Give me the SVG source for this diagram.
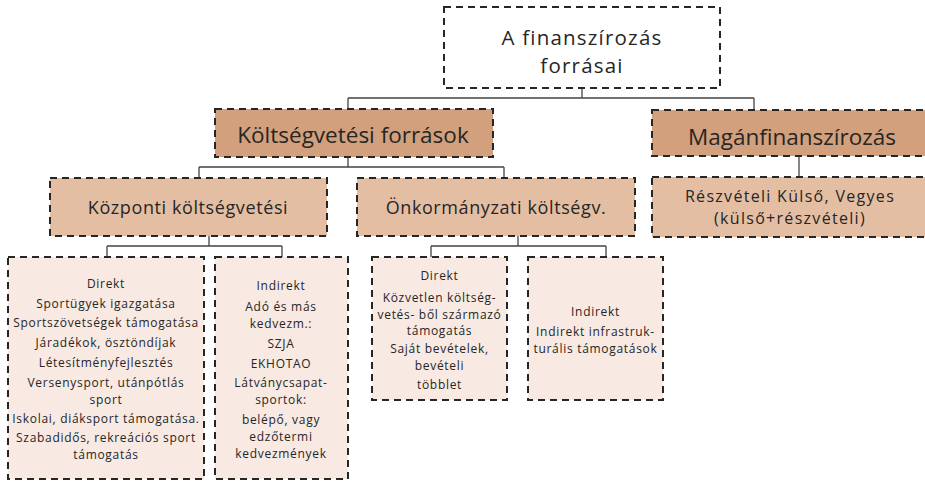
<svg xmlns="http://www.w3.org/2000/svg" width="925" height="481" viewBox="0 0 925 481">
<style>
.box{stroke:#262626;stroke-width:2;stroke-dasharray:7 5}
.root{fill:#ffffff}
.l1{fill:#D2A07C}
.l2{fill:#E4BEA2}
.l3{fill:#F8E9E2}
text{font-family:"Open Sans","Noto Sans","Liberation Sans",sans-serif;font-weight:500;fill:#262626;text-anchor:middle}
.t0{font-size:20.5px;letter-spacing:1.2px}
.t1{font-size:22.5px}
.t2{font-size:18px;letter-spacing:0.6px}
.t2b{font-size:16px;letter-spacing:1.3px}
.t3{font-size:12px;letter-spacing:0.7px}
.conn{fill:none;stroke:#444;stroke-width:1.3}
</style>
<rect width="925" height="481" fill="#fff"/>
<g id="connectors">
<path class="conn" d="M582 88V98M348 98H754M348 98V109M754 98V110"/>
<path class="conn" d="M799 156V177"/>
<path class="conn" d="M348 157V167M199 167H504M199 167V178M504 167V178"/>
<path class="conn" d="M209 236V246M107 246H282M107 246V257M282 246V257"/>
<path class="conn" d="M518 236V246M431 246H606M431 246V257M606 246V257"/>
</g>
<g id="root">
<rect class="box root" x="444" y="7" width="276" height="81"/>
<text class="t0" x="582" y="45">A finanszírozás<tspan x="582" dy="28">forrásai</tspan></text>
</g>
<g id="koltsegvetesi">
<rect class="box l1" x="215" y="109" width="278" height="48"/>
<text class="t1" x="353" y="143">Költségvetési források</text>
</g>
<g id="magan">
<rect class="box l1" x="652" y="110" width="280" height="46"/>
<text class="t1" x="792" y="145">Magánfinanszírozás</text>
</g>
<g id="reszveteli">
<rect class="box l2" x="652" y="177" width="280" height="60"/>
<text class="t2b" x="790" y="202">Részvételi Külső, Vegyes<tspan x="790" dy="22">(külső+részvételi)</tspan></text>
</g>
<g id="kozponti">
<rect class="box l2" x="50" y="178" width="277" height="58"/>
<text class="t2" x="188" y="214">Központi költségvetési</text>
</g>
<g id="onkormanyzati">
<rect class="box l2" x="357" y="178" width="278" height="58"/>
<text class="t2" x="496" y="214">Önkormányzati költségv.</text>
</g>
<g id="kozponti-direkt">
<rect class="box l3" x="8" y="257" width="196" height="222"/>
<text class="t3" x="106" y="288">Direkt</text>
<text class="t3" x="106" y="308">Sportügyek igazgatása</text>
<text class="t3" x="106" y="327">Sportszövetségek támogatása</text>
<text class="t3" x="106" y="347">Járadékok, ösztöndíjak</text>
<text class="t3" x="106" y="367">Létesítményfejlesztés</text>
<text class="t3" x="106" y="387">Versenysport, utánpótlás<tspan x="106" dy="16.5">sport</tspan></text>
<text class="t3" x="106" y="423">Iskolai, diáksport támogatása.</text>
<text class="t3" x="106" y="442">Szabadidős, rekreációs sport<tspan x="106" dy="16.5">támogatás</tspan></text>
</g>
<g id="kozponti-indirekt">
<rect class="box l3" x="215" y="257" width="133" height="222"/>
<text class="t3" x="281" y="290">Indirekt</text>
<text class="t3" x="281" y="311">Adó és más<tspan x="281" dy="16.5">kedvezm.:</tspan></text>
<text class="t3" x="281" y="348">SZJA</text>
<text class="t3" x="281" y="368">EKHOTAO</text>
<text class="t3" x="281" y="387">Látványcsapat-<tspan x="281" dy="16.5">sportok:</tspan></text>
<text class="t3" x="281" y="424">belépő, vagy<tspan x="281" dy="16.5">edzőtermi</tspan></text>
<text class="t3" x="281" y="458">kedvezmények</text>
</g>
<g id="onk-direkt">
<rect class="box l3" x="372" y="257" width="135" height="143"/>
<text class="t3" x="439.5" y="280">Direkt</text>
<text class="t3" x="439.5" y="302">Közvetlen költség-<tspan x="439.5" dy="16.5">vetés- ből származó</tspan><tspan x="439.5" dy="16.5">támogatás</tspan></text>
<text class="t3" x="439.5" y="353">Saját bevételek,<tspan x="439.5" dy="16.5">bevételi</tspan></text>
<text class="t3" x="439.5" y="389">többlet</text>
</g>
<g id="onk-indirekt">
<rect class="box l3" x="528" y="257" width="135" height="143"/>
<text class="t3" x="595.5" y="316">Indirekt</text>
<text class="t3" x="595.5" y="336">Indirekt infrastruk-<tspan x="595.5" dy="16.5">turális támogatások</tspan></text>
</g>
</svg>
